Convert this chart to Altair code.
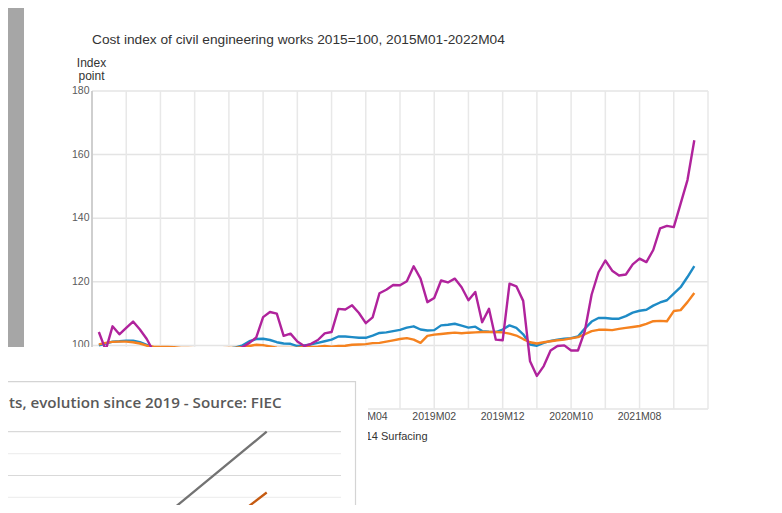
import altair as alt
import pandas as pd

# ---------------- data: main chart (Statistics Finland style) ----------------
series_names = ["Total index", "Materials", "14 Surfacing"]
series_colors = ["#1e8bc6", "#f5821f", "#b0239c"]

blue = [100.0, 100.6, 101.2, 101.3, 101.5, 101.5, 101.0, 100.2, 99.3, 99.2,
        99.0, 98.8, 98.6, 98.5, 98.6, 98.6, 98.6, 98.8, 98.9, 99.0,
        99.4, 100.0, 101.3, 102.0, 102.1, 101.7, 101.0, 100.6, 100.5, 99.8,
        100.0, 100.3, 100.8, 101.3, 101.8, 102.8, 102.8, 102.6, 102.4, 102.4,
        103.1, 103.9, 104.1, 104.5, 104.9, 105.6, 106.0, 105.0, 104.7, 104.8,
        106.3, 106.5, 106.8, 106.2, 105.6, 105.9, 104.5, 104.3, 104.2, 105.0,
        106.3, 105.5, 103.5, 100.3, 99.9, 100.8, 101.4, 101.8, 102.1, 102.3,
        102.8, 105.3, 107.5, 108.6, 108.6, 108.4, 108.4, 109.2, 110.3, 110.9,
        111.2, 112.5, 113.5, 114.2, 116.3, 118.3, 121.5, 124.9]

orange = [100.3, 100.8, 101.1, 101.2, 101.2, 101.0, 100.6, 99.9, 99.6, 99.5,
          99.5, 99.4, 99.2, 99.2, 99.1, 99.1, 99.0, 99.0, 99.1, 99.2,
          99.3, 99.5, 99.8, 100.2, 100.1, 99.7, 99.3, 99.2, 99.2, 99.3,
          99.5, 99.5, 99.6, 99.8, 99.6, 99.8, 99.9, 100.2, 100.3, 100.4,
          100.7, 100.8, 101.2, 101.6, 102.0, 102.3, 101.8, 100.8, 103.0, 103.4,
          103.6, 103.8, 104.0, 103.8, 104.0, 104.1, 104.2, 104.2, 104.2, 104.1,
          103.7, 103.1, 102.0, 101.0, 100.6, 101.0, 101.3, 101.6, 101.8, 102.2,
          102.6, 103.5, 104.5, 104.9, 104.9, 104.8, 105.2, 105.5, 105.8, 106.1,
          106.8, 107.6, 107.7, 107.6, 110.8, 111.1, 113.6, 116.5]

purple = [104.2, 98.5, 106.0, 103.5, 105.5, 107.5, 105.0, 102.0, 98.0, 96.5,
          96.0, 97.0, 95.5, 96.0, 97.5, 96.5, 97.0, 96.0, 97.0, 97.5,
          98.5, 99.5, 100.8, 102.5, 108.9, 110.5, 110.0, 103.0, 103.7, 101.2,
          99.8, 100.5, 101.7, 103.8, 104.2, 111.5, 111.3, 112.6, 110.2, 107.0,
          108.8, 116.4, 117.5, 119.0, 118.9, 120.2, 124.9, 121.0, 113.6, 114.9,
          120.4, 119.8, 121.0, 118.3, 114.2, 116.8, 107.3, 111.5, 101.8, 101.6,
          119.4, 118.6, 114.0, 95.0, 90.4, 93.5, 98.4, 99.8, 100.0, 98.4,
          98.4, 104.5, 116.0, 123.0, 126.7, 123.5, 122.0, 122.3, 125.5, 127.3,
          126.2, 130.0, 136.8, 137.6, 137.2, 144.6, 152.0, 164.5]

y_ticks = [100, 120, 140, 160, 180]
y_grid = [80, 100, 120, 140, 160, 180]
x_grid = [-1, 4, 9, 14, 19, 24, 29, 34, 39, 44, 49, 54, 59, 64, 69, 74, 79, 84, 89]
# only the labels not hidden by the overlapping screenshot
x_label_pos = [39, 49, 59, 69, 79]
x_labels = ["2018M04", "2019M02", "2019M12", "2020M10", "2021M08"]

# ---------------- data: overlapping FIEC chart ----------------
fiec_names = ["Steel", "Timber"]
fiec_colors = ["#737373", "#c55a11"]
fiec_gray_m = [0, 6, 12, 18, 24, 26, 38]
fiec_gray_v = [100, 97, 95, 94, 96, 98.4, 200]
fiec_brown_m = [0, 6, 12, 18, 24, 30, 33, 38]
fiec_brown_v = [100, 98, 96, 95, 93, 92, 91.2, 130.6]
fiec_grid_major = [150, 200]
fiec_grid_minor = [125, 175]

# ---------------- tables ----------------
rows = []
for name, vals in zip(series_names, [blue, orange, purple]):
    for i, v in enumerate(vals):
        rows.append({"m": i, "v": v, "s": name})
main_df = pd.DataFrame(rows)

frows = []
for name, ms, vs in [(fiec_names[0], fiec_gray_m, fiec_gray_v),
                     (fiec_names[1], fiec_brown_m, fiec_brown_v)]:
    for m, v in zip(ms, vs):
        frows.append({"m": m, "v": v, "s": name})
fiec_df = pd.DataFrame(frows)

W, H = 616, 318
FONT = "Liberation Sans"
xs = alt.Scale(domain=[-1, 89])
ys = alt.Scale(domain=[80, 180])
fxs = alt.Scale(domain=[0, 38], range=[-167.3, 174.7])
fys = alt.Scale(domain=[100, 200], range=[428.3, 340.7])

one = pd.DataFrame({"a": [0]})

panel = alt.Chart(one).mark_rect(color="white").encode(
    x=alt.value(-68), x2=alt.value(686.7), y=alt.value(-100), y2=alt.value(420.7))

hgrid = alt.Chart(pd.DataFrame({"y": y_grid})).mark_rule(
    color="#e4e4e4", strokeWidth=1.5).encode(
    y=alt.Y("y:Q", scale=ys, axis=None), x=alt.value(0), x2=alt.value(W))

vgrid = alt.Chart(pd.DataFrame({"x": x_grid})).mark_rule(
    color="#e8e8e8", strokeWidth=1.5).encode(
    x=alt.X("x:Q", scale=xs, axis=None), y=alt.value(0), y2=alt.value(H))

yaxis = alt.Chart(one).mark_rule(color="#c4c4c4", strokeWidth=1.5).encode(
    x=alt.value(0), y=alt.value(0), y2=alt.value(H))

lines = alt.Chart(main_df).mark_line(strokeWidth=2.4, strokeJoin="round").encode(
    x=alt.X("m:Q", scale=xs, axis=None),
    y=alt.Y("v:Q", scale=ys, axis=None),
    color=alt.Color("s:N", scale=alt.Scale(domain=series_names, range=series_colors),
                    legend=None),
    detail="s:N")

ylab = alt.Chart(pd.DataFrame({"y": y_ticks})).mark_text(
    align="right", baseline="middle", font=FONT, fontSize=10.5, color="#5a5a5a").encode(
    y=alt.Y("y:Q", scale=ys, axis=None), x=alt.value(-2.5), text="y:Q")

xlab = alt.Chart(pd.DataFrame({"x": x_label_pos, "t": x_labels})).mark_text(
    align="center", baseline="middle", font=FONT, fontSize=10.5, color="#4a4a4a").encode(
    x=alt.X("x:Q", scale=xs, axis=None), y=alt.value(325.7), text="t:N")

title = alt.Chart(one).mark_text(
    align="left", baseline="middle", font=FONT, fontSize=13.7, color="#333333").encode(
    x=alt.value(0), y=alt.value(-51.5),
    text=alt.value("Cost index of civil engineering works 2015=100, 2015M01-2022M04"))

ytitle1 = alt.Chart(one).mark_text(
    align="center", baseline="middle", font=FONT, fontSize=12, color="#333333").encode(
    x=alt.value(-0.5), y=alt.value(-27.7), text=alt.value("Index"))
ytitle2 = alt.Chart(one).mark_text(
    align="center", baseline="middle", font=FONT, fontSize=12, color="#333333").encode(
    x=alt.value(-0.5), y=alt.value(-15), text=alt.value("point"))

legend_txt = alt.Chart(one).mark_text(
    align="right", baseline="middle", font=FONT, fontSize=11, color="#333333").encode(
    x=alt.value(335.5), y=alt.value(345.7), text=alt.value("14 Surfacing"))

# overlapping FIEC screenshot
cover = alt.Chart(one).mark_rect(color="white").encode(
    x=alt.value(-100), x2=alt.value(276), y=alt.value(256), y2=alt.value(440))

frame = alt.Chart(one).mark_rect(fill="white", stroke="#d4d4d4", strokeWidth=1.2).encode(
    x=alt.value(-100), x2=alt.value(263.5), y=alt.value(290.7), y2=alt.value(440))

fgrid_major = alt.Chart(pd.DataFrame({"y": fiec_grid_major})).mark_rule(
    color="#d9d9d9", strokeWidth=1.2).encode(
    y=alt.Y("y:Q", scale=fys, axis=None), x=alt.value(-100), x2=alt.value(249))
fgrid_minor = alt.Chart(pd.DataFrame({"y": fiec_grid_minor})).mark_rule(
    color="#efefef", strokeWidth=1.2).encode(
    y=alt.Y("y:Q", scale=fys, axis=None), x=alt.value(-100), x2=alt.value(249))

flines = alt.Chart(fiec_df).mark_line(strokeWidth=2.3).encode(
    x=alt.X("m:Q", scale=fxs, axis=None),
    y=alt.Y("v:Q", scale=fys, axis=None),
    color=alt.Color("s:N", scale=alt.Scale(domain=fiec_names, range=fiec_colors),
                    legend=None),
    detail="s:N")

ftitle = alt.Chart(one).mark_text(
    align="left", baseline="middle", font="Open Sans", fontSize=15.2, fontWeight=600,
    color="#595959").encode(
    x=alt.value(-83), y=alt.value(312),
    text=alt.value("ts, evolution since 2019 - Source: FIEC"))

chart = alt.layer(
    panel, hgrid, vgrid, yaxis, lines, ylab, xlab, title, ytitle1, ytitle2, legend_txt,
    cover, frame, fgrid_major, fgrid_minor, flines, ftitle
).resolve_scale(
    x="independent", y="independent", color="independent"
).properties(
    width=W, height=H,
    autosize=alt.AutoSizeParams(type="none"),
    padding={"left": 84, "top": 83, "right": 66, "bottom": 96},
    background="#a6a6a6",
).configure_view(stroke=None)

chart.save("out.html", embed_options={"renderer": "svg", "actions": False})
